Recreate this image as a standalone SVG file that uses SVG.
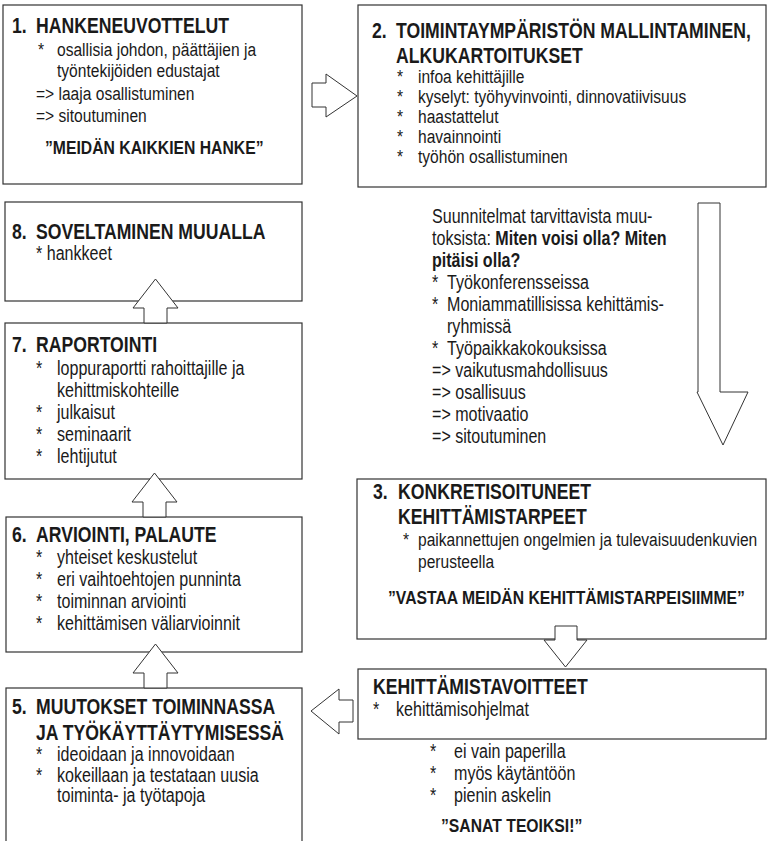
<svg xmlns="http://www.w3.org/2000/svg" width="769" height="841" viewBox="0 0 769 841">
<style>
.t{font-family:"Liberation Sans",Arial,sans-serif;fill:#1a1a1a}
.h{font-size:21.5px;font-weight:bold}
.b{font-size:19.6px}
.s{font-size:19px}
.q{font-size:19.2px;font-weight:bold}
.box{fill:#fff;stroke:#333;stroke-width:1.2}
.arr{fill:#fff;stroke:#333;stroke-width:1}
</style>
<rect width="769" height="841" fill="#fff"/>
<g id="n1">
<rect class="box" x="3" y="5" width="299" height="179"/>
<text class="t h" transform="translate(12,33) scale(.82,1)">1.</text>
<text class="t h" transform="translate(36,33) scale(.82,1)">HANKENEUVOTTELUT</text>
<text class="t s" transform="translate(38,56) scale(.82,1)">*</text>
<text class="t s" transform="translate(57,56) scale(.82,1)">osallisia johdon, päättäjien ja</text>
<text class="t s" transform="translate(57,77) scale(.82,1)">työntekijöiden edustajat</text>
<text class="t s" transform="translate(36,100) scale(.82,1)">=&gt; laaja osallistuminen</text>
<text class="t s" transform="translate(36,121.5) scale(.82,1)">=&gt; sitoutuminen</text>
<text class="t q" transform="translate(45,154) scale(.82,1)">”MEIDÄN KAIKKIEN HANKE”</text>
</g>
<g id="n2">
<rect class="box" x="358" y="5" width="408" height="182"/>
<text class="t h" transform="translate(372,38) scale(.82,1)">2.</text>
<text class="t h" transform="translate(396,38) scale(.82,1)">TOIMINTAYMPÄRISTÖN MALLINTAMINEN,</text>
<text class="t h" transform="translate(396,63) scale(.82,1)">ALKUKARTOITUKSET</text>
<text class="t s" transform="translate(397,83) scale(.82,1)">*</text>
<text class="t s" transform="translate(418,83) scale(.82,1)">infoa kehittäjille</text>
<text class="t s" transform="translate(397,103) scale(.82,1)">*</text>
<text class="t s" transform="translate(418,103) scale(.82,1)">kyselyt: työhyvinvointi, dinnovatiivisuus</text>
<text class="t s" transform="translate(397,123) scale(.82,1)">*</text>
<text class="t s" transform="translate(418,123) scale(.82,1)">haastattelut</text>
<text class="t s" transform="translate(397,143) scale(.82,1)">*</text>
<text class="t s" transform="translate(418,143) scale(.82,1)">havainnointi</text>
<text class="t s" transform="translate(397,163) scale(.82,1)">*</text>
<text class="t s" transform="translate(418,163) scale(.82,1)">työhön osallistuminen</text>
</g>
<g id="plan">
<text class="t b" transform="translate(432,223) scale(.82,1)">Suunnitelmat tarvittavista muu-</text>
<text class="t b" transform="translate(432,245) scale(.82,1)">toksista: <tspan font-weight="bold">Miten voisi olla? Miten</tspan></text>
<text class="t b" font-weight="bold" transform="translate(432,267) scale(.82,1)">pitäisi olla?</text>
<text class="t b" transform="translate(432,289) scale(.82,1)">*</text>
<text class="t b" transform="translate(447,289) scale(.82,1)">Työkonferensseissa</text>
<text class="t b" transform="translate(432,311) scale(.82,1)">*</text>
<text class="t b" transform="translate(447,311) scale(.82,1)">Moniammatillisissa kehittämis-</text>
<text class="t b" transform="translate(447,333) scale(.82,1)">ryhmissä</text>
<text class="t b" transform="translate(432,355) scale(.82,1)">*</text>
<text class="t b" transform="translate(447,355) scale(.82,1)">Työpaikkakokouksissa</text>
<text class="t b" transform="translate(432,377) scale(.82,1)">=&gt; vaikutusmahdollisuus</text>
<text class="t b" transform="translate(432,399) scale(.82,1)">=&gt; osallisuus</text>
<text class="t b" transform="translate(432,421) scale(.82,1)">=&gt; motivaatio</text>
<text class="t b" transform="translate(432,443) scale(.82,1)">=&gt; sitoutuminen</text>
</g>
<g id="n8">
<rect class="box" x="5" y="202" width="297" height="99"/>
<text class="t h" transform="translate(12,239) scale(.82,1)">8.</text>
<text class="t h" transform="translate(36,239) scale(.82,1)">SOVELTAMINEN MUUALLA</text>
<text class="t b" transform="translate(36,260) scale(.82,1)">* hankkeet</text>
</g>
<g id="n7">
<rect class="box" x="5" y="323" width="297" height="156"/>
<text class="t h" transform="translate(12,352) scale(.82,1)">7.</text>
<text class="t h" transform="translate(36,352) scale(.82,1)">RAPORTOINTI</text>
<text class="t b" transform="translate(36,375) scale(.82,1)">*</text>
<text class="t b" transform="translate(57,375) scale(.82,1)">loppuraportti rahoittajille ja</text>
<text class="t b" transform="translate(57,397) scale(.82,1)">kehittmiskohteille</text>
<text class="t b" transform="translate(36,419) scale(.82,1)">*</text>
<text class="t b" transform="translate(57,419) scale(.82,1)">julkaisut</text>
<text class="t b" transform="translate(36,441) scale(.82,1)">*</text>
<text class="t b" transform="translate(57,441) scale(.82,1)">seminaarit</text>
<text class="t b" transform="translate(36,463) scale(.82,1)">*</text>
<text class="t b" transform="translate(57,463) scale(.82,1)">lehtijutut</text>
</g>
<g id="n6">
<rect class="box" x="6" y="517" width="296" height="135"/>
<text class="t h" transform="translate(12,542) scale(.82,1)">6.</text>
<text class="t h" transform="translate(36,542) scale(.82,1)">ARVIOINTI, PALAUTE</text>
<text class="t b" transform="translate(36,564) scale(.82,1)">*</text>
<text class="t b" transform="translate(57,564) scale(.82,1)">yhteiset keskustelut</text>
<text class="t b" transform="translate(36,586) scale(.82,1)">*</text>
<text class="t b" transform="translate(57,586) scale(.82,1)">eri vaihtoehtojen punninta</text>
<text class="t b" transform="translate(36,608) scale(.82,1)">*</text>
<text class="t b" transform="translate(57,608) scale(.82,1)">toiminnan arviointi</text>
<text class="t b" transform="translate(36,630) scale(.82,1)">*</text>
<text class="t b" transform="translate(57,630) scale(.82,1)">kehittämisen väliarvioinnit</text>
</g>
<g id="n5">
<rect class="box" x="6" y="688" width="296" height="170"/>
<text class="t h" transform="translate(12,714) scale(.82,1)">5.</text>
<text class="t h" transform="translate(36,714) scale(.82,1)">MUUTOKSET TOIMINNASSA</text>
<text class="t h" transform="translate(36,740) scale(.82,1)">JA TYÖKÄYTTÄYTYMISESSÄ</text>
<text class="t b" transform="translate(36,761) scale(.82,1)">*</text>
<text class="t b" transform="translate(57,761) scale(.82,1)">ideoidaan ja innovoidaan</text>
<text class="t b" transform="translate(36,782) scale(.82,1)">*</text>
<text class="t b" transform="translate(57,782) scale(.82,1)">kokeillaan ja testataan uusia</text>
<text class="t b" transform="translate(57,802) scale(.82,1)">toiminta- ja työtapoja</text>
</g>
<g id="n3">
<rect class="box" x="357" y="479" width="409" height="160"/>
<text class="t h" transform="translate(373,499) scale(.82,1)">3.</text>
<text class="t h" transform="translate(398,499) scale(.82,1)">KONKRETISOITUNEET</text>
<text class="t h" transform="translate(398,524) scale(.82,1)">KEHITTÄMISTARPEET</text>
<text class="t s" transform="translate(403,546) scale(.82,1)">*</text>
<text class="t s" transform="translate(418,546) scale(.82,1)">paikannettujen ongelmien ja tulevaisuudenkuvien</text>
<text class="t s" transform="translate(418,568) scale(.82,1)">perusteella</text>
<text class="t q" transform="translate(388,604) scale(.82,1)">”VASTAA MEIDÄN KEHITTÄMISTARPEISIIMME”</text>
</g>
<g id="n4">
<rect class="box" x="358" y="669" width="408" height="70"/>
<text class="t h" transform="translate(373,694) scale(.82,1)">KEHITTÄMISTAVOITTEET</text>
<text class="t b" transform="translate(373,716) scale(.82,1)">*</text>
<text class="t b" transform="translate(396,716) scale(.82,1)">kehittämisohjelmat</text>
<text class="t b" transform="translate(430,758) scale(.82,1)">*</text>
<text class="t b" transform="translate(454,758) scale(.82,1)">ei vain paperilla</text>
<text class="t b" transform="translate(430,780) scale(.82,1)">*</text>
<text class="t b" transform="translate(454,780) scale(.82,1)">myös käytäntöön</text>
<text class="t b" transform="translate(430,802) scale(.82,1)">*</text>
<text class="t b" transform="translate(454,802) scale(.82,1)">pienin askelin</text>
<text class="t q" transform="translate(441,832) scale(.82,1)">”SANAT TEOIKSI!”</text>
</g>
<g id="connectors">
<polygon class="arr" points="312,83 326,83 326,74 357,96 326,117 326,107 312,107"/>
<polygon class="arr" points="698,203 720,203 720,392 748,392 723,445 697,392 698,392"/>
<polygon class="arr" points="555,626 577,626 577,640 587,640 565.5,667 544,640 555,640"/>
<polygon class="arr" points="353,700 353,722 339,722 339,734 311,711 339,689 339,700"/>
<polygon class="arr" points="144,323 167,323 167,308 178,308 155.5,279 133,308 144,308"/>
<polygon class="arr" points="143,517 166,517 166,502 177,502 154.5,473 132,502 143,502"/>
<polygon class="arr" points="144,688 167,688 167,673 178,673 155.5,644 133,673 144,673"/>
</g>
</svg>
